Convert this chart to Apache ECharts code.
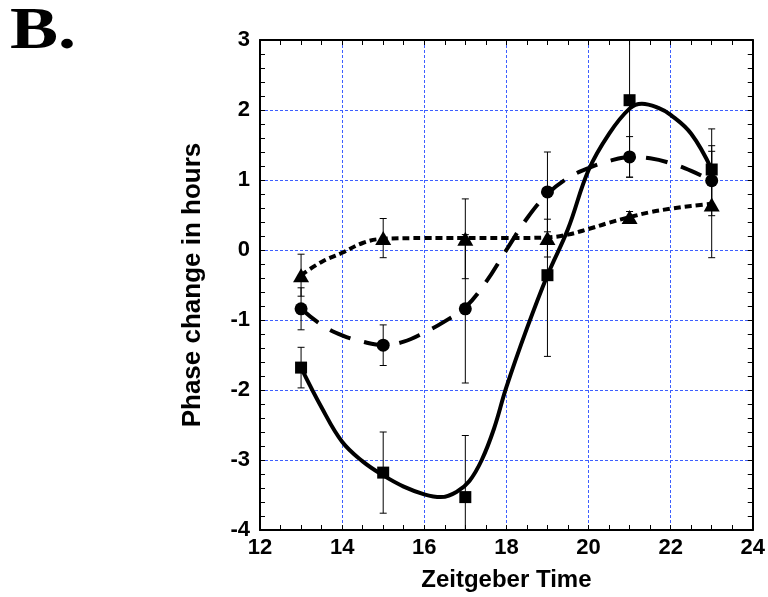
<!DOCTYPE html>
<html>
<head>
<meta charset="utf-8">
<script src="https://cdn.jsdelivr.net/npm/echarts@6/dist/echarts.min.js"></script>
<style>
  html, body { margin: 0; padding: 0; background: #fff; }
  #main { width: 768px; height: 597px; }
</style>
</head>
<body>
<div id="main"></div>
<script>
// measured points (ZT)
const zt = [13, 15, 17, 19, 21, 23]

const squareVals = [-1.68, -3.18, -3.53, -0.36, 2.14, 1.15]
const squareErr = [0.29, 0.58, 0.88, 1.16, 1.1, 0.58]

const circleVals = [-0.84, -1.36, -0.84, 0.83, 1.33, 0.99]
const circleErr = [0.3, 0.29, 1.06, 0.57, 0.29, 0.5]

const triangleVals = [-0.36, 0.17, 0.16, 0.17, 0.47, 0.65]
const triangleErr = [0.3, 0.28, 0.57, 0.27, 0.08, 0.76]

// fitted curves
const solidCurveX = [13, 13.5, 14, 14.5, 15, 15.5, 16, 16.4, 16.8, 17.1, 17.4, 17.7, 18, 18.5, 19, 19.5, 20, 20.5, 21, 21.3, 21.7, 22, 22.5, 23]
const solidCurveY = [-1.68, -2.25, -2.74, -3.02, -3.22, -3.38, -3.49, -3.53, -3.45, -3.3, -3.0, -2.55, -1.96, -1.12, -0.36, 0.3, 1.14, 1.66, 2.02, 2.09, 2.03, 1.93, 1.66, 1.15]

const longDashX = [13, 13.5, 14, 14.5, 15, 15.5, 16, 16.5, 17, 17.5, 18, 18.5, 19, 19.5, 20, 20.5, 21, 21.5, 22, 22.5, 23]
const longDashY = [-0.84, -1.07, -1.22, -1.31, -1.36, -1.31, -1.18, -1.02, -0.82, -0.46, 0.0, 0.45, 0.8, 1.03, 1.17, 1.27, 1.33, 1.31, 1.24, 1.13, 0.99]

const shortDashX = [13, 13.5, 14, 14.5, 15, 16, 17, 18, 19, 19.5, 20, 20.5, 21, 21.5, 22, 22.5, 23]
const shortDashY = [-0.36, -0.17, -0.04, 0.1, 0.16, 0.17, 0.17, 0.17, 0.18, 0.22, 0.3, 0.39, 0.47, 0.54, 0.59, 0.63, 0.66]

const zip = (a, b) => a.map((v, i) => [v, b[i]])

const errData = []
;[[squareVals, squareErr], [circleVals, circleErr], [triangleVals, triangleErr]].forEach(([v, e]) => {
  zt.forEach((x, i) => errData.push([x, v[i] - e[i], v[i] + e[i]]))
})

const chart = echarts.init(document.getElementById('main'))

const font = '"Liberation Sans", Arial, sans-serif'
const gridLine = {
  show: true,
  lineStyle: { color: '#3d5eff', width: 1, type: [3, 2] }
}
const tick = { inside: true, length: 5, lineStyle: { color: '#000', width: 1 } }
const minor = (n) => ({ show: true, splitNumber: n, length: 5, lineStyle: { color: '#000', width: 1 } })
const axisLine = { onZero: false, lineStyle: { color: '#000', width: 2 } }
const labelStyle = { fontFamily: font, fontWeight: 'bold', fontSize: 22, color: '#000' }
const nameStyle = { fontFamily: font, fontWeight: 'bold', fontSize: 24, color: '#000' }

chart.setOption({
  backgroundColor: '#fff',
  animation: false,
  graphic: [{
    type: 'text',
    left: 10,
    top: 2,
    scaleX: 1.2,
    style: {
      text: 'B.',
      font: 'bold 60px "Liberation Serif", "Times New Roman", serif',
      fill: '#000'
    }
  }],
  grid: {
    left: 260,
    top: 40,
    width: 493,
    height: 490,
    show: false
  },
  xAxis: [
    {
      type: 'value',
      min: 12,
      max: 24,
      interval: 2,
      name: 'Zeitgeber Time',
      nameLocation: 'middle',
      nameGap: 38,
      nameTextStyle: nameStyle,
      axisLine,
      axisTick: tick,
      minorTick: minor(4),
      axisLabel: { ...labelStyle, margin: 7 },
      splitLine: gridLine
    },
    {
      type: 'value',
      position: 'top',
      min: 12,
      max: 24,
      interval: 2,
      axisLine,
      axisTick: tick,
      minorTick: minor(4),
      axisLabel: { show: false },
      splitLine: { show: false }
    }
  ],
  yAxis: [
    {
      type: 'value',
      min: -4,
      max: 3,
      interval: 1,
      name: 'Phase change in hours',
      nameLocation: 'middle',
      nameGap: 54,
      nameTextStyle: { ...nameStyle, fontSize: 26 },
      axisLine,
      axisTick: tick,
      minorTick: minor(5),
      axisLabel: { ...labelStyle, margin: 10 },
      splitLine: gridLine
    },
    {
      type: 'value',
      position: 'right',
      min: -4,
      max: 3,
      interval: 1,
      axisLine,
      axisTick: tick,
      minorTick: minor(5),
      axisLabel: { show: false },
      splitLine: { show: false }
    }
  ],
  series: [
    {
      type: 'custom',
      clip: true,
      z: 2,
      data: errData,
      renderItem: (params, api) => {
        const x = api.value(0)
        const lo = api.coord([x, api.value(1)])
        const hi = api.coord([x, api.value(2)])
        const cap = 3.5
        const style = { stroke: '#000', lineWidth: 1 }
        return {
          type: 'group',
          children: [
            { type: 'line', shape: { x1: lo[0], y1: lo[1], x2: hi[0], y2: hi[1] }, style },
            { type: 'line', shape: { x1: lo[0] - cap, y1: lo[1], x2: lo[0] + cap, y2: lo[1] }, style },
            { type: 'line', shape: { x1: hi[0] - cap, y1: hi[1], x2: hi[0] + cap, y2: hi[1] }, style }
          ]
        }
      }
    },
    {
      type: 'line',
      data: zip(solidCurveX, solidCurveY),
      smooth: 0.4,
      showSymbol: false,
      z: 3,
      lineStyle: { color: '#000', width: 4 }
    },
    {
      type: 'line',
      data: zip(longDashX, longDashY),
      smooth: 0.4,
      showSymbol: false,
      z: 3,
      lineStyle: { color: '#000', width: 4, type: [22, 14] }
    },
    {
      type: 'line',
      data: zip(shortDashX, shortDashY),
      smooth: 0.4,
      showSymbol: false,
      z: 3,
      lineStyle: { color: '#000', width: 4, type: [7, 4] }
    },
    {
      type: 'scatter',
      data: zip(zt, squareVals),
      symbol: 'rect',
      symbolSize: 12,
      z: 4,
      itemStyle: { color: '#000', opacity: 1 }
    },
    {
      type: 'scatter',
      data: zip(zt, circleVals),
      symbol: 'circle',
      symbolSize: 13,
      z: 4,
      itemStyle: { color: '#000', opacity: 1 }
    },
    {
      type: 'scatter',
      data: zip(zt, triangleVals),
      symbol: 'triangle',
      symbolSize: [16, 14],
      z: 4,
      itemStyle: { color: '#000', opacity: 1 }
    }
  ]
})
</script>
</body>
</html>
